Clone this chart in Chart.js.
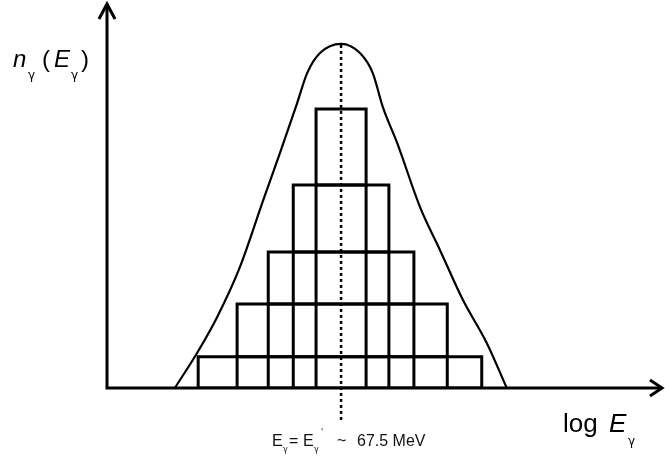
<!DOCTYPE html>
<html>
<head>
<meta charset="utf-8">
<script src="https://cdn.jsdelivr.net/npm/chart.js@4.4.1/dist/chart.umd.min.js"></script>
<style>
  body { margin: 0; background: #fff; }
  #wrap { width: 665px; height: 461px; position: relative; }
</style>
</head>
<body>
<div id="wrap"><canvas id="spectrum"></canvas></div>
<script>
// spectrum envelope (x: log E in arbitrary units, y: n in arbitrary units)
const curveX = [12.2, 16.2, 19.8, 23.9, 28.1, 31.1, 34.2, 36.0, 38.3, 42.1, 45.5, 47.8, 49.6, 52.2, 56.3, 59.9, 64.0, 68.3, 71.9];
const curveY = [0, 9.1, 18.4, 31.4, 48.8, 61.0, 74.0, 81.8, 87.0, 89.4, 87.0, 81.8, 73.0, 63.6, 47.0, 35.8, 22.9, 11.7, 0];

// boxes: bin edges along x and the top of each stacked row
const binEdges = [16.4, 23.4, 29.0, 33.5, 37.6, 46.6, 50.7, 55.2, 61.2, 67.4];
const rowTops = [8.1, 21.8, 35.3, 52.7, 72.5];

// line of the peak energy
const peakX = 42.1;
const peakSpan = [-8.3, 89.4];

const xRange = [0, 100];
const yRange = [0, 100];

function rowPoints(k) {
  const lo = k, hi = binEdges.length - 1 - k;
  const bottom = k === 0 ? 0 : rowTops[k - 1];
  const top = rowTops[k];
  const pts = [
    { x: binEdges[lo], y: bottom }, { x: binEdges[lo], y: top },
    { x: binEdges[hi], y: top }, { x: binEdges[hi], y: bottom },
    { x: binEdges[lo], y: bottom }
  ];
  for (let i = lo + 1; i < hi; i++) {
    pts.push({ x: binEdges[i], y: null });
    pts.push({ x: binEdges[i], y: bottom }, { x: binEdges[i], y: top });
  }
  return pts;
}

const rowSets = rowTops.map((t, k) => ({
  label: "row " + (k + 1),
  data: rowPoints(k),
  borderColor: "#000",
  borderWidth: 3,
  pointRadius: 0,
  tension: 0,
  spanGaps: false,
  borderJoinStyle: "miter"
}));

// axes with arrow heads + the labels
const axesPlugin = {
  id: "axes",
  afterDatasetsDraw(chart) {
    const { ctx, chartArea, scales } = chart;
    const x0 = scales.x.getPixelForValue(xRange[0]);
    const y0 = scales.y.getPixelForValue(0);
    const top = chartArea.top, right = chartArea.right;
    ctx.save();
    ctx.strokeStyle = "#000";
    ctx.lineWidth = 3;
    ctx.lineCap = "butt";
    ctx.beginPath();
    ctx.moveTo(x0, y0 + 1.5); ctx.lineTo(x0, top + 1);
    ctx.moveTo(x0, y0); ctx.lineTo(right - 1, y0);
    ctx.stroke();
    ctx.lineJoin = "miter";
    ctx.beginPath();
    ctx.moveTo(x0 - 8, top + 16); ctx.lineTo(x0, top + 1); ctx.lineTo(x0 + 8, top + 16);
    ctx.moveTo(right - 13, y0 - 8); ctx.lineTo(right - 1, y0); ctx.lineTo(right - 13, y0 + 8);
    ctx.stroke();

    ctx.fillStyle = "#000";
    ctx.textBaseline = "alphabetic";
    const sans = "'Liberation Sans', Arial, sans-serif";
    const sub = "12px 'DejaVu Sans', sans-serif";
    // y label
    ctx.font = "italic 24px " + sans; ctx.fillText("n", 13, 67);
    ctx.font = sub; ctx.fillText("γ", 28, 79);
    ctx.font = "24px " + sans; ctx.fillText("(", 42, 67);
    ctx.font = "italic 24px " + sans; ctx.fillText("E", 54, 67);
    ctx.font = sub; ctx.fillText("γ", 71, 79);
    ctx.font = "24px " + sans; ctx.fillText(")", 81, 67);
    // x label
    ctx.font = "26px " + sans; ctx.fillText("log", 563, 432);
    ctx.font = "italic 26px " + sans; ctx.fillText("E", 609, 432);
    ctx.font = sub; ctx.fillText("γ", 628, 445);
    // peak label
    const small = "16px " + sans;
    const tiny = "8px 'DejaVu Sans', sans-serif";
    ctx.fillStyle = "#111";
    ctx.font = small; ctx.fillText("E", 272, 446);
    ctx.font = tiny; ctx.fillText("γ", 283, 452);
    ctx.font = small; ctx.fillText("=", 289, 446);
    ctx.font = small; ctx.fillText("E", 303, 446);
    ctx.font = tiny; ctx.fillText("γ", 314, 452);
    ctx.font = tiny; ctx.fillText("'", 321, 435);
    ctx.font = small; ctx.fillText("~", 337, 446);
    ctx.font = small; ctx.fillText("67.5 MeV", 357, 446);
    ctx.restore();
  }
};

new Chart(document.getElementById("spectrum"), {
  type: "line",
  data: {
    datasets: [
      ...rowSets,
      {
        label: "spectrum",
        data: curveX.map((x, i) => ({ x: x, y: curveY[i] })),
        borderColor: "#000",
        borderWidth: 2.2,
        pointRadius: 0,
        cubicInterpolationMode: "monotone"
      },
      {
        label: "peak",
        data: peakSpan.map(y => ({ x: peakX, y: y })),
        borderColor: "#000",
        borderWidth: 2.5,
        borderDash: [3, 3],
        pointRadius: 0,
        clip: false
      }
    ]
  },
  options: {
    responsive: true,
    maintainAspectRatio: false,
    animation: false,
    layout: { padding: { left: 107, right: 2, top: 3, bottom: 73 } },
    scales: {
      x: { type: "linear", min: xRange[0], max: xRange[1], display: false },
      y: { type: "linear", min: yRange[0], max: yRange[1], display: false }
    },
    plugins: {
      legend: { display: false },
      tooltip: { enabled: false }
    }
  },
  plugins: [axesPlugin]
});
</script>
</body>
</html>
